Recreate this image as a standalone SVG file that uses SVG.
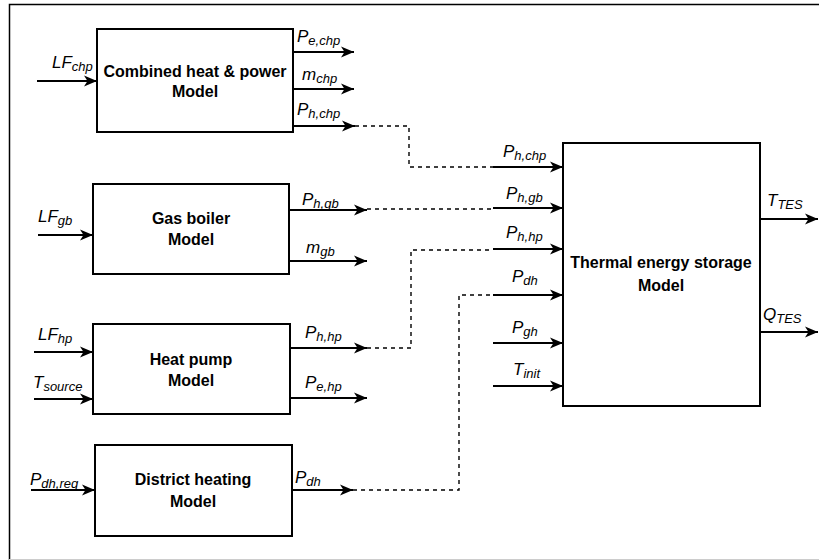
<svg xmlns="http://www.w3.org/2000/svg" width="819" height="560" viewBox="0 0 819 560">
<style>
.box{fill:#fff;stroke:#000;stroke-width:2}
.t{font-family:"Liberation Sans",Arial,sans-serif;font-size:16px;font-weight:bold;text-anchor:middle;fill:#000}
.l{font-family:"Liberation Sans",Arial,sans-serif;font-size:17px;font-style:italic;fill:#000}
.s{font-size:13px}
.a{stroke:#000;stroke-width:2;fill:none;marker-end:url(#ah)}
.d{stroke:#000;stroke-width:1.4;fill:none;stroke-dasharray:4 4}
</style>
<defs>
<marker id="ah" markerUnits="userSpaceOnUse" markerWidth="14" markerHeight="12" refX="13" refY="6" orient="auto">
<path d="M0,0.5 L13,6 L0,11.5 L3.5,6 Z" fill="#000"/>
</marker>
</defs>
<rect x="0" y="0" width="819" height="560" fill="#fff"/>
<path d="M9.5,560 V4.5 H819" fill="none" stroke="#000" stroke-width="1.5"/>
<line x1="9" y1="559.5" x2="819" y2="559.5" stroke="#ccc" stroke-width="1"/>

<g id="connectors">
<line class="a" x1="37" y1="81" x2="97" y2="81"/>
<line class="a" x1="293" y1="52" x2="354" y2="52"/>
<line class="a" x1="293" y1="89" x2="354" y2="89"/>
<line class="a" x1="293" y1="126" x2="355" y2="126"/>
<path class="d" d="M355,126 H409 V167 H493"/>
<line class="a" x1="38" y1="235" x2="93" y2="235"/>
<line class="a" x1="289" y1="210" x2="367" y2="210"/>
<line class="a" x1="289" y1="261" x2="367" y2="261"/>
<path class="d" d="M367,209 H493"/>
<line class="a" x1="34" y1="352" x2="93" y2="352"/>
<line class="a" x1="34" y1="399" x2="93" y2="399"/>
<line class="a" x1="290" y1="348" x2="367" y2="348"/>
<line class="a" x1="290" y1="398" x2="367" y2="398"/>
<path class="d" d="M367,348 H411 V250 H493"/>
<line class="a" x1="31" y1="490" x2="95" y2="490"/>
<line class="a" x1="292" y1="490" x2="353" y2="490"/>
<path class="d" d="M353,490 H459 V295 H493"/>
<line class="a" x1="493" y1="167" x2="563" y2="167"/>
<line class="a" x1="493" y1="208" x2="563" y2="208"/>
<line class="a" x1="493" y1="249" x2="563" y2="249"/>
<line class="a" x1="493" y1="295" x2="563" y2="295"/>
<line class="a" x1="493" y1="343" x2="563" y2="343"/>
<line class="a" x1="493" y1="386" x2="563" y2="386"/>
<line class="a" x1="760" y1="219" x2="818" y2="219"/>
<line class="a" x1="760" y1="332" x2="818" y2="332"/>
</g>

<g id="chp">
<rect class="box" x="97" y="29" width="196" height="103"/>
<text class="t" x="195" y="77">Combined heat &amp; power</text>
<text class="t" x="195" y="97">Model</text>
</g>
<g id="gb">
<rect class="box" x="93" y="184" width="196" height="90"/>
<text class="t" x="191" y="224">Gas boiler</text>
<text class="t" x="191" y="245">Model</text>
</g>
<g id="hp">
<rect class="box" x="93" y="324" width="197" height="90"/>
<text class="t" x="191" y="365">Heat pump</text>
<text class="t" x="191" y="386">Model</text>
</g>
<g id="dh">
<rect class="box" x="95" y="445" width="197" height="91"/>
<text class="t" x="193" y="485">District heating</text>
<text class="t" x="193" y="507">Model</text>
</g>
<g id="tes">
<rect class="box" x="563" y="143" width="197" height="263"/>
<text class="t" x="661" y="268">Thermal energy storage</text>
<text class="t" x="661" y="291">Model</text>
</g>

<g id="labels">
<text class="l" x="52" y="68">LF<tspan class="s" dy="3">chp</tspan></text>
<text class="l" x="297" y="42">P<tspan class="s" dy="3">e,chp</tspan></text>
<text class="l" x="302" y="80">m<tspan class="s" dy="3">chp</tspan></text>
<text class="l" x="297" y="115">P<tspan class="s" dy="3">h,chp</tspan></text>
<text class="l" x="38" y="222">LF<tspan class="s" dy="3">gb</tspan></text>
<text class="l" x="302" y="205">P<tspan class="s" dy="3">h,gb</tspan></text>
<text class="l" x="306" y="253">m<tspan class="s" dy="3">gb</tspan></text>
<text class="l" x="38" y="340">LF<tspan class="s" dy="3">hp</tspan></text>
<text class="l" x="33" y="388">T<tspan class="s" dy="3">source</tspan></text>
<text class="l" x="305" y="338">P<tspan class="s" dy="3">h,hp</tspan></text>
<text class="l" x="305" y="388">P<tspan class="s" dy="3">e,hp</tspan></text>
<text class="l" x="30" y="485">P<tspan class="s" dy="3">dh,req</tspan></text>
<text class="l" x="295" y="483">P<tspan class="s" dy="3">dh</tspan></text>
<text class="l" x="503" y="157">P<tspan class="s" dy="3">h,chp</tspan></text>
<text class="l" x="506" y="199">P<tspan class="s" dy="3">h,gb</tspan></text>
<text class="l" x="506" y="238">P<tspan class="s" dy="3">h,hp</tspan></text>
<text class="l" x="512" y="282">P<tspan class="s" dy="3">dh</tspan></text>
<text class="l" x="512" y="333">P<tspan class="s" dy="3">gh</tspan></text>
<text class="l" x="513" y="375">T<tspan class="s" dy="3">init</tspan></text>
<text class="l" x="767" y="206">T<tspan class="s" dy="3">TES</tspan></text>
<text class="l" x="763" y="320">Q<tspan class="s" dy="3">TES</tspan></text>
</g>
</svg>
